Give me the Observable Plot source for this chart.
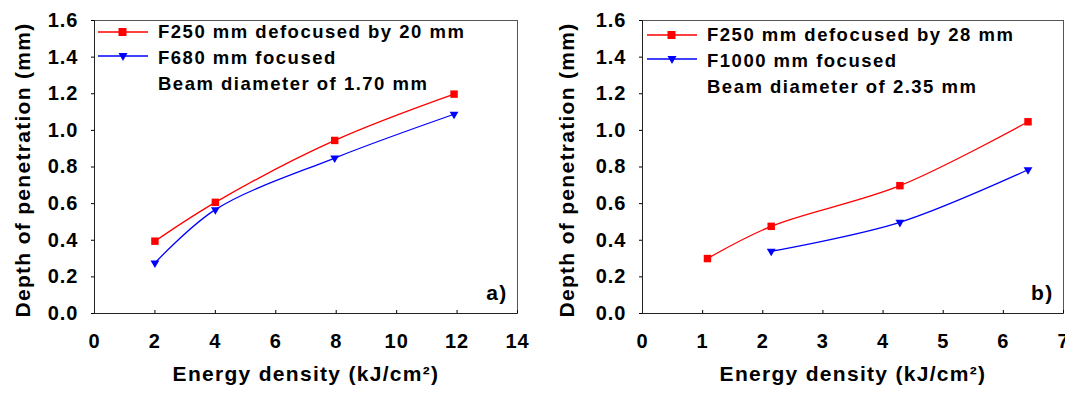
<!DOCTYPE html>
<html><head><meta charset="utf-8">
<script src="https://cdn.jsdelivr.net/npm/d3@7"></script>
<script src="https://cdn.jsdelivr.net/npm/@observablehq/plot@0.6"></script>
<style>
body{margin:0;background:#fff;}
#wrap{position:relative;width:1065px;height:397px;font-family:"Liberation Sans",Arial,sans-serif;overflow:hidden;}
.panel{position:absolute;top:0;}
.panel g[aria-label="text"] text{letter-spacing:1.3px;}
.panel g[aria-label$="tick label"] text{letter-spacing:1px;}
.leg{position:absolute;font-weight:bold;font-size:18.5px;letter-spacing:1.5px;color:#000;line-height:26px;}
.row{display:flex;align-items:center;height:26px;white-space:nowrap;}
.row svg{margin-right:10px;flex:none;}
.row .sp{width:60px;flex:none;}
</style></head>
<body><div id="wrap"></div>
<script>
// Panel a
const energyA = [2, 4, 7.95, 11.9];
const depthA_F250 = [0.395, 0.607, 0.945, 1.198];
const depthA_F680 = [0.276, 0.567, 0.849, 1.088];
// Panel b
const energyB_F250 = [1.08, 2.14, 4.28, 6.41];
const depthB_F250 = [0.30, 0.476, 0.698, 1.047];
const energyB_F1000 = [2.14, 4.28, 6.41];
const depthB_F1000 = [0.34, 0.498, 0.785];
// Ticks & labels
const yTicks = [0, 0.2, 0.4, 0.6, 0.8, 1.0, 1.2, 1.4, 1.6];
const xTicksA = [0, 2, 4, 6, 8, 10, 12, 14];
const xTicksB = [0, 1, 2, 3, 4, 5, 6, 7];
const yTitle = "Depth of penetration (mm)";
const xTitle = "Energy density (kJ/cm\u00B2)";
const legendA = ["F250 mm defocused by 20 mm", "F680 mm focused", "Beam diameter of 1.70 mm"];
const legendB = ["F250 mm defocused by 28 mm", "F1000 mm focused", "Beam diameter of 2.35 mm"];

const RED = "#ff0000", BLUE = "#0000ff";
const FONT = "Liberation Sans, Arial, sans-serif";

function zip(xs, ys) { return xs.map((x, i) => ({x, y: ys[i]})); }

function panel({red, blue, xDomain, xTicks, width, marginLeft, marginRight, tag, titleDx}) {
  return Plot.plot({
    width, height: 397, marginLeft, marginRight, marginTop: 20, marginBottom: 84,
    x: {domain: xDomain},
    y: {domain: [0, 1.6]},
    style: {fontFamily: FONT, background: "transparent", color: "#000"},
    marks: [
      Plot.frame({stroke: "#555", strokeWidth: 1}),
      Plot.axisY({ticks: yTicks, tickFormat: d3.format(".1f"), tickSize: 3, tickPadding: 13,
        fontSize: 20, fontWeight: "bold", label: null}),
      Plot.axisX({ticks: xTicks, tickFormat: d3.format("d"), tickSize: -3, tickPadding: 23,
        fontSize: 20, fontWeight: "bold", label: null}),
      Plot.ruleY([0], {stroke: "#222"}),
      Plot.ruleX([xDomain[0]], {stroke: "#222"}),
      Plot.line(red, {x: "x", y: "y", stroke: RED, strokeWidth: 1.3, curve: "catmull-rom"}),
      Plot.line(blue, {x: "x", y: "y", stroke: BLUE, strokeWidth: 1.3, curve: "catmull-rom"}),
      Plot.dot(red, {x: "x", y: "y", symbol: "square", r: 4.2, fill: RED, stroke: "none"}),
      Plot.dot(blue, {x: "x", y: "y", symbol: "triangle2", rotate: 180, r: 4.2, fill: BLUE, stroke: "none"}),
      Plot.text([yTitle], {frameAnchor: "left", textAnchor: "middle", dx: titleDx, dy: 3, rotate: -90, fontSize: 21, fontWeight: "bold", fill: "#000"}),
      Plot.text([xTitle], {frameAnchor: "bottom", textAnchor: "middle", dy: 67, fontSize: 21, fontWeight: "bold", fill: "#000"}),
      Plot.text([tag], {frameAnchor: "bottom-right", dx: -10, dy: -14, textAnchor: "end", fontSize: 21, fontWeight: "bold", fill: "#000"})
    ]
  });
}

const wrap = document.getElementById("wrap");

const pa = panel({red: zip(energyA, depthA_F250), blue: zip(energyA, depthA_F680),
  xDomain: [0, 14], xTicks: xTicksA, width: 540, marginLeft: 94, marginRight: 23, tag: "a)", titleDx: -71});
pa.classList.add("panel"); pa.style.left = "0px";
wrap.appendChild(pa);

const pb = panel({red: zip(energyB_F250, depthB_F250), blue: zip(energyB_F1000, depthB_F1000),
  xDomain: [0, 7], xTicks: xTicksB, width: 525, marginLeft: 102, marginRight: 2, tag: "b)", titleDx: -75});
pb.classList.add("panel"); pb.style.left = "540px";
wrap.appendChild(pb);

function legend(labels, left, top) {
  const div = document.createElement("div");
  div.className = "leg";
  div.style.left = left + "px";
  div.style.top = top + "px";
  const syms = [
    `<svg width="50" height="12"><line x1="0" y1="6" x2="50" y2="6" stroke="${RED}" stroke-width="1.3"/><rect x="20.5" y="2" width="8" height="8" fill="${RED}"/></svg>`,
    `<svg width="50" height="12"><line x1="0" y1="4" x2="50" y2="4" stroke="${BLUE}" stroke-width="1.3"/><path d="M20.5,1 L29.5,1 L25,9 Z" fill="${BLUE}"/></svg>`,
    `<span class="sp"></span>`
  ];
  labels.forEach((t, i) => {
    const r = document.createElement("div");
    r.className = "row";
    r.innerHTML = syms[i] + `<span>${t}</span>`;
    div.appendChild(r);
  });
  wrap.appendChild(div);
}
legend(legendA, 98, 19);
legend(legendB, 647, 22);
</script></body></html>
